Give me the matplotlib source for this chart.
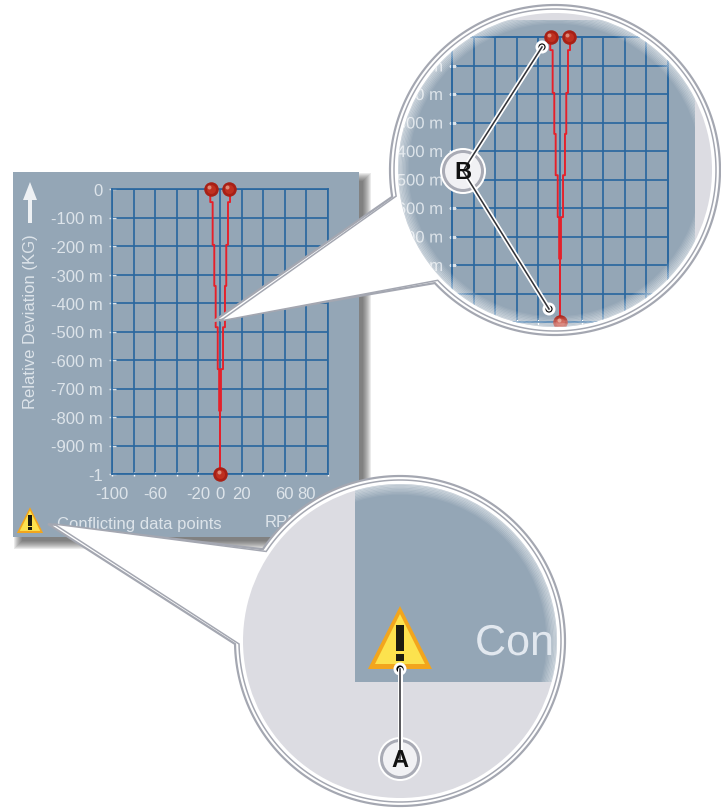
import numpy as np
import matplotlib
matplotlib.use('Agg')
import matplotlib.pyplot as plt
import matplotlib.patches as patches
import matplotlib.patheffects as pe
from matplotlib.transforms import ScaledTranslation

# chart values
rpm_ticks = [-100, -80, -60, -40, -20, 0, 20, 40, 60, 80, 100]
rpm_labels = ['-100', '', '-60', '', '-20', '0', '20', '', '60', '80', '']
dev_ticks = [0, -0.1, -0.2, -0.3, -0.4, -0.5, -0.6, -0.7, -0.8, -0.9, -1]
dev_labels = ['0', '-100 m', '-200 m', '-300 m', '-400 m', '-500 m', '-600 m',
              '-700 m', '-800 m', '-900 m', '-1']
step_dev = [0, -0.046, -0.196, -0.34, -0.485, -0.632, -0.778, -0.924, -1]
left_rpm = [-9.5, -9, -6.8, -5.3, -4, -2.1, -0.8, 0, 0]
right_rpm = [10.5, 9.3, 7.4, 5.8, 4.6, 2.8, 0.9, 0, 0]
point_rpm = [-8.6, 8.3, 0]
point_dev = [0, 0, -1]

# colors
panel_color = '#94a6b6'
page_gray = '#dcdce2'
grid_color = '#2a679f'
text_color = '#dde4ea'
ring_color = '#a4a7b1'
line_red = '#e6202a'
PX = 72 / 100  # one pixel in points
W, H = 721, 812
font = 'Liberation Sans'

fig = plt.figure(figsize=(W / 100, H / 100), dpi=100, facecolor='white')


def overlay(z):
    ax = fig.add_axes([0, 0, 1, 1], zorder=z)
    ax.set_xlim(0, W)
    ax.set_ylim(H, 0)
    ax.axis('off')
    return ax


def chart_axes(left, top, z):
    ax = fig.add_axes([left / W, (H - top - 285) / H, 216 / W, 285 / H], zorder=z)
    ax.patch.set_visible(False)
    return ax


# draws the deviation chart, clip is the lens circle for the magnified copy
def draw_chart(ax, clip=None):
    ax.set_xlim(-100, 100)
    ax.set_ylim(-1, 0)
    ax.set_xticks(rpm_ticks)
    ax.set_xticklabels(rpm_labels, family=font, fontsize=12, color=text_color)
    ax.set_yticks(dev_ticks)
    ax.set_yticklabels(dev_labels, family=font, fontsize=12, color=text_color)
    ax.tick_params(axis='x', length=4 * PX, direction='inout', color='white', width=1, pad=7)
    ax.tick_params(axis='y', length=7 * PX, direction='inout', color=text_color, width=1, pad=4)
    ax.grid(True, color=grid_color, lw=1.7 * PX)
    ax.set_axisbelow(True)
    for name, sp in ax.spines.items():
        sp.set_color(grid_color)
        sp.set_linewidth(1.7 * PX)
    arts = list(ax.spines.values())
    arts += ax.get_xgridlines() + ax.get_ygridlines()
    arts += ax.get_xticklines() + ax.get_yticklines()
    labels = ax.get_xticklabels() + ax.get_yticklabels()
    # no snapping here, the two traces are only a pixel or two apart
    steps = ax.step(left_rpm, step_dev, where='post', color=line_red, lw=1.9 * PX, zorder=4)
    steps += ax.step(right_rpm, step_dev, where='post', color=line_red, lw=1.9 * PX, zorder=4)
    for s in steps:
        s.set_snap(False)
    arts += steps
    # sphere markers, three layers to fake the shading
    arts += ax.plot(point_rpm, point_dev, 'o', ms=14.5 * PX, color='#a82015', mec='none', clip_on=False, zorder=5)
    arts += ax.plot(point_rpm, point_dev, 'o', ms=9 * PX, color='#bf3020', mec='none', clip_on=False, zorder=6)
    shift = ScaledTranslation(-1.5 / 100, 2.5 / 100, fig.dpi_scale_trans)
    arts += ax.plot(point_rpm, point_dev, 'o', ms=4 * PX, color='#dc8a78', mec='none', clip_on=False,
                    zorder=7, transform=ax.transData + shift)
    if clip is not None:
        for a in arts + labels:
            a.set_clip_on(True)
            a.set_clip_box(None)
            a.set_clip_path(clip)
        # agg only honours a clip path on text drawn as a path
        for t in labels:
            t.set_path_effects([pe.Normal()])


def balloon_points(cx, cy, r, tip, p1, p2):
    a1 = np.arctan2(p1[1] - cy, p1[0] - cx)
    a2 = np.arctan2(p2[1] - cy, p2[0] - cx)
    if a2 < a1:
        a2 += 2 * np.pi
    t = np.linspace(a1, a2, 200)
    pts = np.column_stack([cx + r * np.cos(t), cy + r * np.sin(t)])
    return np.vstack([pts, tip])


def balloon(ax, cx, cy, r, tip, p1, p2):
    for rr, tp, lw in [(r, tip, 2.2), (r - 4, (tip[0] + 6 * np.sign(cx - tip[0]), tip[1]), 1.5)]:
        ax.add_patch(patches.Polygon(balloon_points(cx, cy, rr, tp, p1, p2), closed=True,
                                     fc='white', ec=ring_color, lw=lw * PX, joinstyle='miter'))


def warning(ax, cx, base, s):
    ax.add_patch(patches.Polygon([(cx - 32 * s, base), (cx + 32 * s, base), (cx, base - 63 * s)],
                                 closed=True, fc='#f2a51d', ec='none'))
    ax.add_patch(patches.Polygon([(cx - 25 * s, base - 5 * s), (cx + 25 * s, base - 5 * s), (cx, base - 55 * s)],
                                 closed=True, fc='#fce24e', ec='none'))
    ax.add_patch(patches.Rectangle((cx - 4 * s, base - 44 * s), 8 * s, 26 * s, fc='#1c1c10', ec='none'))
    ax.add_patch(patches.Rectangle((cx - 4 * s, base - 15 * s), 8 * s, 7 * s, fc='#1c1c10', ec='none'))


def callout(ax, cx, cy, letter, r, targets):
    for tx, ty in targets:
        ax.plot([cx, tx], [cy, ty], color='white', lw=5 * PX, solid_capstyle='round')
        ax.plot([cx, tx], [cy, ty], color='#333338', lw=1.6 * PX)
        ax.add_patch(patches.Circle((tx, ty), 6.5, fc='white', ec='none'))
        ax.add_patch(patches.Circle((tx, ty), 3.6, fc='black', ec='none'))
    ax.add_patch(patches.Circle((cx, cy), r, fc='#a9abb5', ec='white', lw=2 * PX))
    ax.add_patch(patches.Circle((cx, cy), r - 4, fc='#f1f1f4', ec='none'))
    ax.text(cx, cy + 0.5, letter, ha='center', va='center', family=font, weight='bold', fontsize=17, color='#111111')


# background panel with its shadow
back = overlay(0)
for i in range(9):
    back.add_patch(patches.Rectangle((13 + 9 - i, 173 + 9 - i), 346 + 2 * i - 5, 365 + 2 * i - 5,
                                     fc='#3a3a3a', ec='none', alpha=0.10))
back.add_patch(patches.Rectangle((13, 173), 346, 365, fc=panel_color, ec='none'))

main_ax = chart_axes(112, 190, 1)
draw_chart(main_ax)

# panel texts and warning icon
back.add_patch(patches.FancyArrow(30, 224, 0, -41, width=4, head_width=14, head_length=18,
                                  length_includes_head=True, fc='#eef1f4', ec='none'))
back.text(31, 322, 'Relative Deviation (KG)', rotation=90, ha='center', va='center',
          family=font, fontsize=12, color=text_color)
back.text(57, 525, 'Conflicting data points', ha='left', va='center', family=font, fontsize=12, color=text_color)
back.text(265, 523, 'RPM', ha='left', va='center', family=font, fontsize=12, color=text_color)
mid_icons = overlay(1.5)
warning(mid_icons, 30, 534, 0.41)

# lenses
mid = overlay(2)
balloon(mid, 555, 171, 165, (214, 322), (397, 197), (437, 282))
balloon(mid, 400, 642, 165, (48, 525), (267, 553), (237, 645))

lens_top = patches.Circle((555, 171), 157, fc=page_gray, ec='none')
lens_low = patches.Circle((400, 642), 157, fc=page_gray, ec='none')
mid.add_patch(lens_top)
mid.add_patch(lens_low)
rect_top = patches.Rectangle((353, 21), 342, 365, fc=panel_color, ec='none')
rect_low = patches.Rectangle((355, 440), 300, 243, fc=panel_color, ec='none')
mid.add_patch(rect_top)
mid.add_patch(rect_low)
rect_top.set_clip_path(lens_top)
rect_low.set_clip_path(lens_low)

zoom_ax = chart_axes(452, 38, 3)
draw_chart(zoom_ax, clip=lens_top)

top = overlay(4)
# soft white edge inside the lenses, only over the blue panel
for cx, cy, rect in [(555, 171, rect_top), (400, 642, rect_low)]:
    for k in range(8):
        ring = patches.Circle((cx, cy), 157 - k * 1.4, fc='none', ec='white',
                              lw=1.8 * PX, alpha=0.45 - k * 0.055)
        top.add_patch(ring)
        ring.set_clip_path(rect)

warning(top, 400, 670, 1.0)
con = top.text(475, 645, 'Con', ha='left', va='center', color='#e2e8ef', fontsize=31, family=font,
               path_effects=[pe.Normal()])
con.set_clip_path(lens_low)

callout(top, 463, 172, 'B', 22, [(542, 48), (549, 310)])
callout(top, 400, 760, 'A', 21, [(400, 670)])

plt.savefig('out.png', dpi=100)
